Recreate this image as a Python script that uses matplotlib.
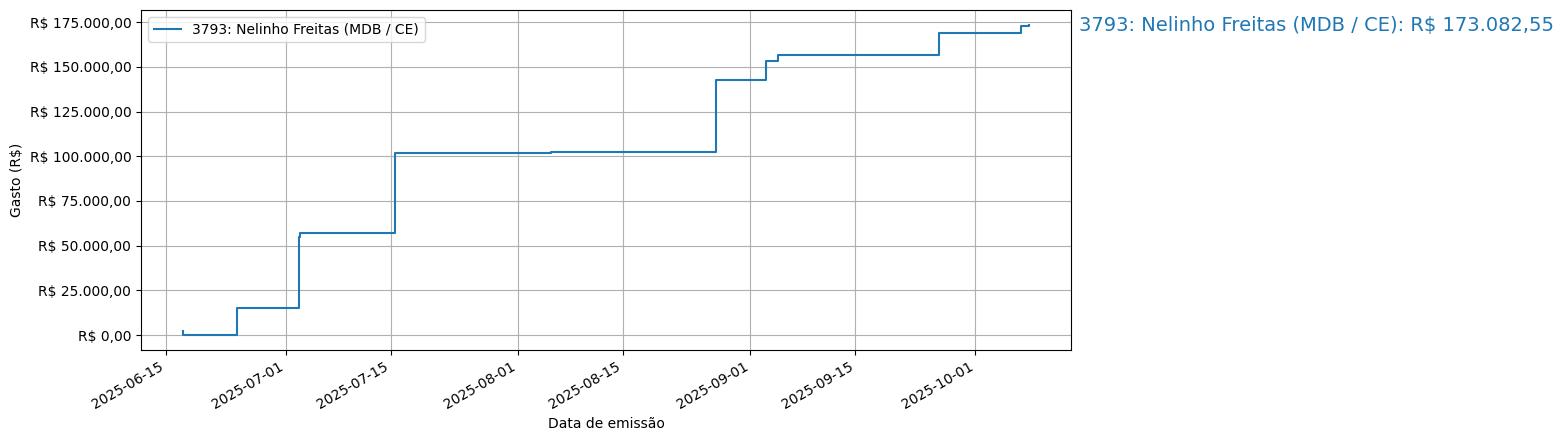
import matplotlib
matplotlib.use("Agg")
import matplotlib.pyplot as plt
import matplotlib.dates as mdates
import matplotlib.ticker as mticker
import pandas as pd

# Dados: gasto acumulado por data de emissão
datas = pd.to_datetime([
    "2025-06-17 08:00", "2025-06-17 08:00", "2025-06-24 11:00",
    "2025-07-02 19:00", "2025-07-02 23:00", "2025-07-15 12:45",
    "2025-08-05 09:20", "2025-08-27 10:00", "2025-09-03 01:00",
    "2025-09-04 15:40", "2025-09-26 04:00", "2025-10-07 01:00",
    "2025-10-08 03:00",
])
gasto_acumulado = [
    2250.0, 350.0, 15200.0,
    55000.0, 57100.0, 102000.0,
    102600.0, 142600.0, 153000.0,
    156400.0, 169100.0, 173000.0,
    173082.55,
]
rotulo = "3793: Nelinho Freitas (MDB / CE)"


def formata_real(v, pos=None):
    s = f"{v:,.2f}".replace(",", "X").replace(".", ",").replace("X", ".")
    return f"R$ {s}"


fig = plt.figure(figsize=(15.64, 4.41), dpi=100)
ax = fig.add_axes([0.0902, 0.2063, 0.5946, 0.771])

linha, = ax.step(datas, gasto_acumulado, where="post", label=rotulo)

# anotação com o valor final
ax.annotate(f"{rotulo}: {formata_real(gasto_acumulado[-1])}",
            (datas[-1], gasto_acumulado[-1]),
            xytext=(36, 0), textcoords="offset points",
            va="center", ha="left", fontsize=14, color=linha.get_color(),
            annotation_clip=False)

ax.yaxis.set_major_formatter(mticker.FuncFormatter(formata_real))
ax.xaxis.set_major_formatter(mdates.DateFormatter("%Y-%m-%d"))
ax.set_xlabel("Data de emissão")
ax.set_ylabel("Gasto (R$)")
ax.grid(True)
ax.legend(loc="upper left")

for lbl in ax.get_xticklabels():
    lbl.set_rotation(30)
    lbl.set_ha("right")

fig.savefig("out.png", dpi=100)
